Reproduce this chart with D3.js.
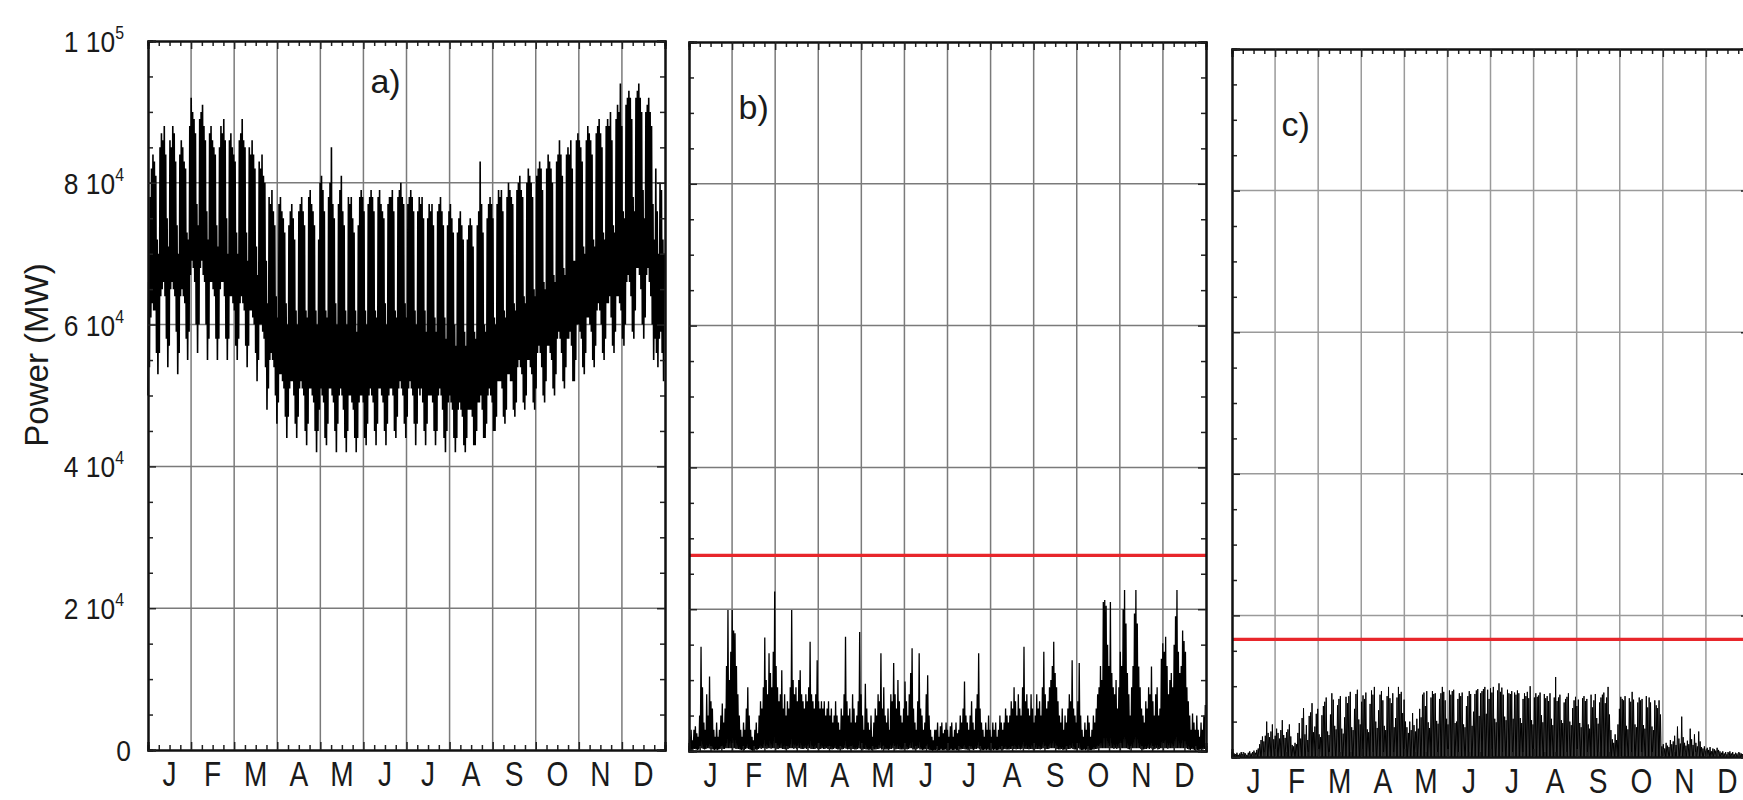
<!DOCTYPE html>
<html>
<head>
<meta charset="utf-8">
<script src="https://cdn.jsdelivr.net/npm/d3@7"></script>
<style>
  body { margin: 0; background: #fff; }
  text { font-family: "Liberation Sans", Arial, sans-serif; fill: #1a1a1a; }
</style>
</head>
<body>
<svg width="1743" height="800"></svg>
<script>
// values in thousands of MW, one value per day (365 days)
const months = ["J","F","M","A","M","J","J","A","S","O","N","D"]
const yTicks = [0, 20, 40, 60, 80, 100]
const yTickLabels = [["0",""], ["2 10","4"], ["4 10","4"], ["6 10","4"], ["8 10","4"], ["1 10","5"]]
const panelNames = ["a)", "b)", "c)"]

// a) total load : daily peak and daily trough, one row per week (Sun..Sat)
const loadMax = [
  66,78,82,84,83,81,72, 70,85,87,86,88,84,75, 71,86,85,88,87,83,74, 70,84,86,85,83,82,73,
  72,88,92,90,89,87,77, 74,89,90,91,88,86,76, 72,87,88,86,85,84,74, 71,85,88,87,89,86,75,
  70,86,87,85,84,83,73, 70,86,87,89,86,85,73, 69,85,84,86,84,82,71, 67,83,82,84,81,80,69,
  63,78,77,79,76,74,64, 61,77,78,76,75,73,63, 60,74,76,77,75,72,62, 60,76,77,78,76,74,62,
  61,78,79,77,76,74,62, 60,72,80,81,79,76,62, 61,78,80,85,77,75,63, 60,77,79,81,76,74,62,
  60,78,77,78,75,73,62, 59,74,78,79,78,76,62, 60,77,78,79,78,76,62, 61,78,79,77,76,75,63,
  60,77,78,78,79,76,62, 61,78,79,80,78,77,63, 61,77,78,79,78,76,62, 60,76,78,77,78,75,62,
  59,75,77,76,77,74,61, 59,76,77,78,76,74,61, 58,74,76,77,75,73,60, 57,73,75,76,74,72,59,
  57,72,74,75,74,71,59, 58,74,76,83,77,73,60, 59,75,77,78,77,75,61, 60,77,79,78,79,76,62,
  61,78,80,79,78,77,63, 62,79,80,81,79,78,64, 63,80,82,81,80,78,65, 64,81,82,83,82,79,66,
  65,82,84,83,82,80,67, 66,83,84,86,84,81,68, 67,84,85,84,86,82,69, 69,86,87,86,85,83,71,
  70,86,88,87,86,84,72, 71,87,88,89,87,85,73, 72,88,89,88,90,86,74, 73,89,91,90,94,88,76,
  75,91,92,93,92,89,78, 76,92,93,94,92,90,79, 75,90,91,92,90,88,77, 72,82,76,70,80,79,72,
  70
]
const loadMin = [
  50,54,61,63,62,62,56, 53,56,64,65,66,64,58, 54,57,65,66,65,64,59, 53,56,64,65,64,63,58,
  55,59,67,69,68,66,60, 56,60,68,69,67,66,60, 55,58,66,66,65,64,58, 55,58,65,66,66,64,58,
  55,58,64,64,63,62,57, 55,58,63,64,63,62,57, 54,57,62,62,61,60,56, 52,55,60,60,59,58,54,
  48,51,55,56,55,54,50, 46,49,53,53,52,51,47, 44,47,51,52,52,50,46, 44,47,51,52,51,50,45,
  43,46,51,51,50,49,45, 42,45,48,51,50,49,44, 43,46,51,51,50,49,45, 42,46,50,51,50,48,44,
  42,45,50,50,49,48,44, 42,44,49,50,50,49,44, 43,46,50,51,50,49,45, 43,46,51,51,50,49,45,
  43,46,50,51,51,50,45, 44,47,51,52,51,50,46, 44,47,51,52,51,50,46, 43,46,51,50,51,49,45,
  43,46,50,50,50,49,45, 43,45,50,51,50,48,44, 42,45,49,50,49,48,44, 42,44,48,49,48,47,43,
  42,44,48,48,48,47,43, 43,45,49,49,50,48,44, 44,46,50,51,50,49,45, 45,47,52,52,52,51,47,
  46,48,53,53,52,52,48, 47,49,54,55,54,53,49, 48,50,55,55,54,53,49, 48,51,56,57,56,54,50,
  49,52,57,57,56,55,51, 50,53,58,59,58,56,52, 51,54,58,58,59,57,52, 52,55,60,60,59,58,54,
  53,56,61,61,60,59,55, 54,57,62,63,62,60,56, 55,58,63,63,64,61,57, 56,59,64,64,63,62,58,
  57,60,66,67,66,64,59, 58,62,68,68,67,65,60, 58,61,67,68,66,64,60, 55,58,56,54,58,59,56,
  52
]

// b) wind : daily maximum and minimum
const windMax = [
  2,3,1.5,3,3.5,2.5,2,5,14.7,9, 4,3,8,5,10.5,7,6,3,2,4, 2,3,5,6.7,4,6,12,19.9,10,14,
  19.9,17,16.6,12,8,5,3,2,4,3, 6,9,5,3,2,1.5,3,4,2.5,5, 7,6,9,16,10,8,13.8,11,9,14,
  22.5,12,9,7,8,11.4,6,8,5,7, 6,9,19.9,10,8,9,7,10,11.4,8, 7,6,8,7,9,15.4,8,7,6,8,
  12.8,7,6,7,6,7,5,6,7,5, 6,4,5,7,5,4,3,6,5,8, 16.1,7,5,6,4,8,6,4,5,7,
  16.8,8,5,3,9.5,6,4,3,5,2, 4,6,5,8,7,13.8,6,9,5,4, 6,3,8,7,12.4,8,6,10,7,5,
  4,6,9.8,7,5,8,11,14.5,6,4, 3,7,13.8,6,5,3,4,8,10.7,5, 3,2,1.5,3,3,4,2,3.5,4,2.5,
  3,4,3,2,3.5,4,2,3,4,2.5, 3,5,4,6,9.8,5,4,3,5,7, 4,3,6,8,13.8,6,4,3,2,4,
  3,5,3,2,4,3,4,2,3,5, 4,3,4,6,5,4,5,7,6,9, 7,5,8,6,5,9,14.7,7,8,6,
  5,8,6,4,5,8,6,7,5,9, 14,8,6,7,9,10,12,15.4,11,9, 7,5,4,6,3,5,4,6,8,7,
  12.8,6,5,4,7,12.4,5,3,2,4, 3,5,4,2,3,5,4,6,8,9, 12,10,21,21.3,20.5,15,12,21,11,9,
  8,10,6,9,14,12,20,22.7,18,11, 8,5,9,12,19.4,22.7,18,11.9,9,6, 5,4,7,6,9,8,11.9,7,5,8,
  9,5,6,13,15.2,14,16.1,12,8,10, 11,9,15,19,22.7,14,11,12,17,15.5, 14,9,7,5,3,5.3,4,3,5,3,
  2,4,3,5,6.5
]
const windMin = [
  0.1,0.2,0,0.2,0.3,0.2,0.1,0.2,0.4,0.4, 0.3,0.2,0.3,0.4,0.4,0.3,0.3,0.2,0.1,0.2, 0.1,0.2,0.3,0.4,0.3,0.3,0.4,0.4,0.4,0.4,
  0.4,0.4,0.4,0.3,0.3,0.3,0.2,0.1,0.2,0.1, 0.3,0.4,0.3,0.2,0.1,0,0.1,0.2,0.1,0.3, 0.4,0.3,0.4,0.4,0.4,0.3,0.4,0.4,0.3,0.4,
  0.4,0.4,0.3,0.3,0.4,0.4,0.3,0.3,0.2,0.3, 0.3,0.4,0.4,0.4,0.3,0.4,0.3,0.4,0.4,0.3, 0.3,0.3,0.4,0.3,0.4,0.4,0.3,0.3,0.3,0.3,
  0.4,0.3,0.3,0.3,0.4,0.3,0.3,0.4,0.3,0.3, 0.3,0.2,0.3,0.4,0.3,0.2,0.2,0.3,0.2,0.3, 0.4,0.3,0.2,0.3,0.2,0.3,0.3,0.2,0.2,0.3,
  0.4,0.3,0.2,0.2,0.3,0.2,0.2,0.1,0.2,0.1, 0.2,0.2,0.2,0.3,0.3,0.4,0.2,0.3,0.2,0.2, 0.2,0.1,0.3,0.3,0.4,0.3,0.2,0.3,0.3,0.2,
  0.2,0.2,0.3,0.3,0.2,0.3,0.4,0.4,0.2,0.2, 0.1,0.3,0.4,0.2,0.2,0.1,0.2,0.3,0.3,0.2, 0.1,0.1,0,0.1,0.1,0.2,0.1,0.1,0.2,0.1,
  0.1,0.2,0.1,0.1,0.1,0.2,0.1,0.1,0.2,0.1, 0.1,0.2,0.2,0.3,0.3,0.2,0.2,0.1,0.2,0.3, 0.2,0.1,0.3,0.3,0.4,0.3,0.2,0.1,0.1,0.2,
  0.1,0.2,0.1,0.1,0.2,0.1,0.2,0.1,0.1,0.2, 0.2,0.1,0.2,0.3,0.2,0.2,0.2,0.3,0.3,0.3, 0.3,0.2,0.3,0.3,0.2,0.3,0.4,0.3,0.3,0.3,
  0.2,0.3,0.3,0.2,0.2,0.3,0.3,0.3,0.2,0.3, 0.4,0.3,0.3,0.3,0.3,0.4,0.4,0.4,0.4,0.3, 0.3,0.2,0.2,0.3,0.1,0.2,0.2,0.3,0.3,0.3,
  0.4,0.3,0.2,0.2,0.3,0.4,0.2,0.1,0.1,0.2, 0.1,0.2,0.2,0.1,0.1,0.2,0.2,0.3,0.3,0.4, 0.4,0.4,0.4,0.4,0.4,0.4,0.4,0.4,0.4,0.4,
  0.3,0.4,0.3,0.4,0.4,0.4,0.4,0.4,0.4,0.4, 0.3,0.2,0.4,0.4,0.4,0.4,0.4,0.4,0.4,0.3, 0.2,0.2,0.3,0.3,0.4,0.3,0.4,0.3,0.2,0.3,
  0.4,0.2,0.3,0.4,0.4,0.4,0.4,0.4,0.3,0.4, 0.4,0.4,0.4,0.4,0.4,0.4,0.4,0.4,0.4,0.4, 0.4,0.4,0.3,0.2,0.1,0.3,0.2,0.1,0.2,0.1,
  0.1,0.2,0.1,0.2,0.3
]

// c) solar : daily maximum (zero at night)
const solarMax = [
  0.3,0.5,0.4,0.6,0.3,0.5,0.7,0.4,0.6,0.5, 0.3,0.6,0.8,0.5,0.7,0.9,0.6,1,1.2,1.8, 2.4,2.9,2.2,3,5,3.4,2.8,3.6,4.6,2.5, 3,
  4,3.4,2.6,3.8,5.2,3.1,2.7,3.5,3.9,4.6,2.9,1.7,1.5,2,1.8,
  3.4,4.8,2.6,5.5,6.9,3.2,4.5,2.4,5.8,6.3,7.6,3.5,4.3,
  6.1,6.8,3.2,2.8,5.9,7.2,7.8,8.4,3.6,3.1,6,9,8.1,4.4,3.9,7.3,8.2,8.6,4,3.3,5.6,8.5,7.6,8.6,9.2,4.2,3.8,6.8,8.9,9.5,5.3,
  4.6,7.8,8.7,8.2,9.1,3.9,3.5,7.5,9.4,8.8,9.9,5,4.1,6.6,8.8,9.3,8,4.4,3.8,8.6,9.9,8.3,7.6,9,4.2,5.5,8.4,9.9,8.9,9.2,
  6.2,8.1,5,4.2,3.4,5,3.8,6.2,4.5,3.6,5.4,4,6.8,5.6,
  8.8,9.1,7.2,9.3,4.9,4.1,8.4,9.3,8.9,9,5.1,4.7,8.2,9,9.9,9.2,8,5.4,4.6,9.4,8.8,9.3,9.5,4.8,5,
  8.2,9,8.6,9.1,4.6,4.2,7.2,8.6,9.3,8.9,4.4,6.4,8.9,9.4,9.6,5.8,9,9.3,9.6,9.9,6.1,9.5,
  8.2,9.7,9.1,9.9,5.4,4.9,9.4,10.4,9.2,9.8,8.8,5.7,5.2,9.5,9,8.9,9.3,5.4,9.1,8.8,9.4,9,5.5,4.8,8.2,9,8.6,9.2,8.3,10,
  5.2,4.6,8.4,9,8.5,8.7,9.1,5.9,4.9,8.9,8.3,8.6,7.9,9,5.4,4.5,8.4,11.3,7.9,8.4,8.8,5.2,4.8,7.7,8.2,8.5,9,5,4.5,6.9,
  8,8.5,7.2,8.1,4.8,4.2,8.3,8.6,7.9,8.2,4.6,4,8.8,7,8,8.9,5.5,4.7,7.7,8.4,8.8,9.1,7.6,8.4,9.9,
  6,3.8,2.5,2,3.2,2.4,4.6,6.8,
  8.5,8.2,8,8.6,4.4,3.9,8.3,7.8,9.2,8.1,4.6,4.2,7.7,8.4,8,8.2,4.5,4,8.6,7,8.4,7.7,4.3,3.8,8,7.3,6.9,8,6,
  1.5,1.8,1.2,2,1.6,1.4,2.4, 1.8,2.2,3,1.7,4.3,2.6,1.9,5.7,2.8,2, 1.6,2.3,1.8,4,2.5,1.7,3.2,2,1.5,3.6,
  2.2,1.4,1.2,1.5,0.9,1.3,1,1.4,0.8,1.2, 1.1,0.9,1.3,1,0.8,0.6,0.8,0.5,0.7,0.4, 0.6,0.8,0.5,0.7,0.4,0.6,0.5,0.3,0.6,0.5,
  0.4,0.7,0.5,0.3,0.4
]

// red limit lines in b) and c)
const windLimit = 27.6
const solarLimit = 16.6

const svg = d3.select("svg")

const frames = [
  {left: 148, right: 665, top: 41, bottom: 750, grid: "#7a7a7a", maxs: loadMax, mins: loadMin, limit: null,
   stroke: 1.6, nameX: 157, nameY: 93},
  {left: 689, right: 1206, top: 42, bottom: 751, grid: "#7a7a7a", maxs: windMax, mins: windMin, limit: windLimit,
   stroke: 1.3, nameX: 35, nameY: 119},
  {left: 1232, right: 1749, top: 49, bottom: 757, grid: "#9a9a9a", maxs: solarMax, mins: null, limit: solarLimit,
   stroke: 1.0, nameX: 35, nameY: 136}
]

frames.forEach(function (f, k) {
  const x = d3.scaleLinear().domain([0, 365]).range([f.left, f.right]),
        y = d3.scaleLinear().domain([0, 100]).range([f.bottom, f.top]),
        monthEdges = d3.range(0, 13).map(m => m * 365 / 12),
        minorX = d3.range(0, 48).filter(q => q % 4 != 0).map(q => q * 365 / 48),
        minorY = d3.range(0, 101, 5).filter(v => v % 20 != 0)

  const g = svg.append("g")

  // grid
  g.selectAll(".vgrid").data(monthEdges.slice(1, 12)).enter().append("line")
    .attr("x1", d => x(d)).attr("x2", d => x(d)).attr("y1", f.top).attr("y2", f.bottom)
    .style("stroke", f.grid).style("stroke-width", 1.5)
  g.selectAll(".hgrid").data(yTicks.slice(1, 5)).enter().append("line")
    .attr("x1", f.left).attr("x2", f.right).attr("y1", d => y(d)).attr("y2", d => y(d))
    .style("stroke", f.grid).style("stroke-width", 1.5)

  // series: daily trough -> daily peak -> next trough
  let pts = []
  f.maxs.forEach(function (v, i) {
    pts.push([i, f.mins ? f.mins[i] : 0])
    pts.push([i + 0.5, v])
  })
  const line = d3.line().x(d => x(d[0])).y(d => y(d[1]))
  g.append("path").attr("d", line(pts))
    .style("fill", "none").style("stroke", "#000").style("stroke-width", f.stroke)

  if (f.limit !== null) {
    g.append("line").attr("x1", f.left).attr("x2", f.right)
      .attr("y1", y(f.limit)).attr("y2", y(f.limit))
      .style("stroke", "#e8262b").style("stroke-width", 3.2)
  }

  // frame with inward ticks
  g.append("g").attr("transform", "translate(0," + f.top + ")")
    .call(d3.axisBottom(x).tickValues(minorX).tickSize(5).tickFormat(""))
  g.append("g").attr("transform", "translate(0," + f.top + ")")
    .call(d3.axisBottom(x).tickValues(monthEdges).tickSize(8).tickFormat(""))
  g.append("g").attr("transform", "translate(0," + f.bottom + ")")
    .call(d3.axisTop(x).tickValues(minorX).tickSize(5).tickFormat(""))
  g.append("g").attr("transform", "translate(0," + f.bottom + ")")
    .call(d3.axisTop(x).tickValues(monthEdges).tickSize(8).tickFormat(""))
  g.append("g").attr("transform", "translate(" + f.left + ",0)")
    .call(d3.axisRight(y).tickValues(minorY).tickSize(5).tickFormat(""))
  g.append("g").attr("transform", "translate(" + f.left + ",0)")
    .call(d3.axisRight(y).tickValues(yTicks).tickSize(8).tickFormat(""))
  g.append("g").attr("transform", "translate(" + f.right + ",0)")
    .call(d3.axisLeft(y).tickValues(minorY).tickSize(5).tickFormat(""))
  g.append("g").attr("transform", "translate(" + f.right + ",0)")
    .call(d3.axisLeft(y).tickValues(yTicks).tickSize(8).tickFormat(""))
  g.selectAll(".domain").style("stroke", "#111").style("stroke-width", 2)
  g.selectAll(".tick line").style("stroke", "#222").style("stroke-width", 1.5)

  // month letters
  g.selectAll(".month").data(months).enter().append("text")
    .attr("transform", (d, i) => "translate(" + x((i + 0.5) * 365 / 12) + "," + (f.bottom + 36) + ") scale(0.78,1)")
    .attr("text-anchor", "middle")
    .style("font-size", "36px")
    .text(d => d)

  // panel label
  g.append("text")
    .attr("x", x(f.nameX))
    .attr("y", f.nameY)
    .style("font-size", "34px")
    .text(panelNames[k])

  // value labels only on the first panel
  if (k == 0) {
    const lab = g.selectAll(".ylab").data(yTicks).enter().append("text")
      .attr("transform", (d, i) => "translate(" + (yTickLabels[i][1] == "" ? 131 : 124) + "," + (y(d) + 11) + ") scale(0.88,1)")
      .attr("text-anchor", "end")
      .style("font-size", "30px")
    lab.append("tspan").text((d, i) => yTickLabels[i][0])
    lab.append("tspan").attr("dy", -13).style("font-size", "18px").text((d, i) => yTickLabels[i][1])
  }
})

svg.append("text")
  .attr("transform", "translate(48,355) rotate(-90)")
  .attr("text-anchor", "middle")
  .style("font-size", "33px")
  .text("Power (MW)")
</script>
</body>
</html>
